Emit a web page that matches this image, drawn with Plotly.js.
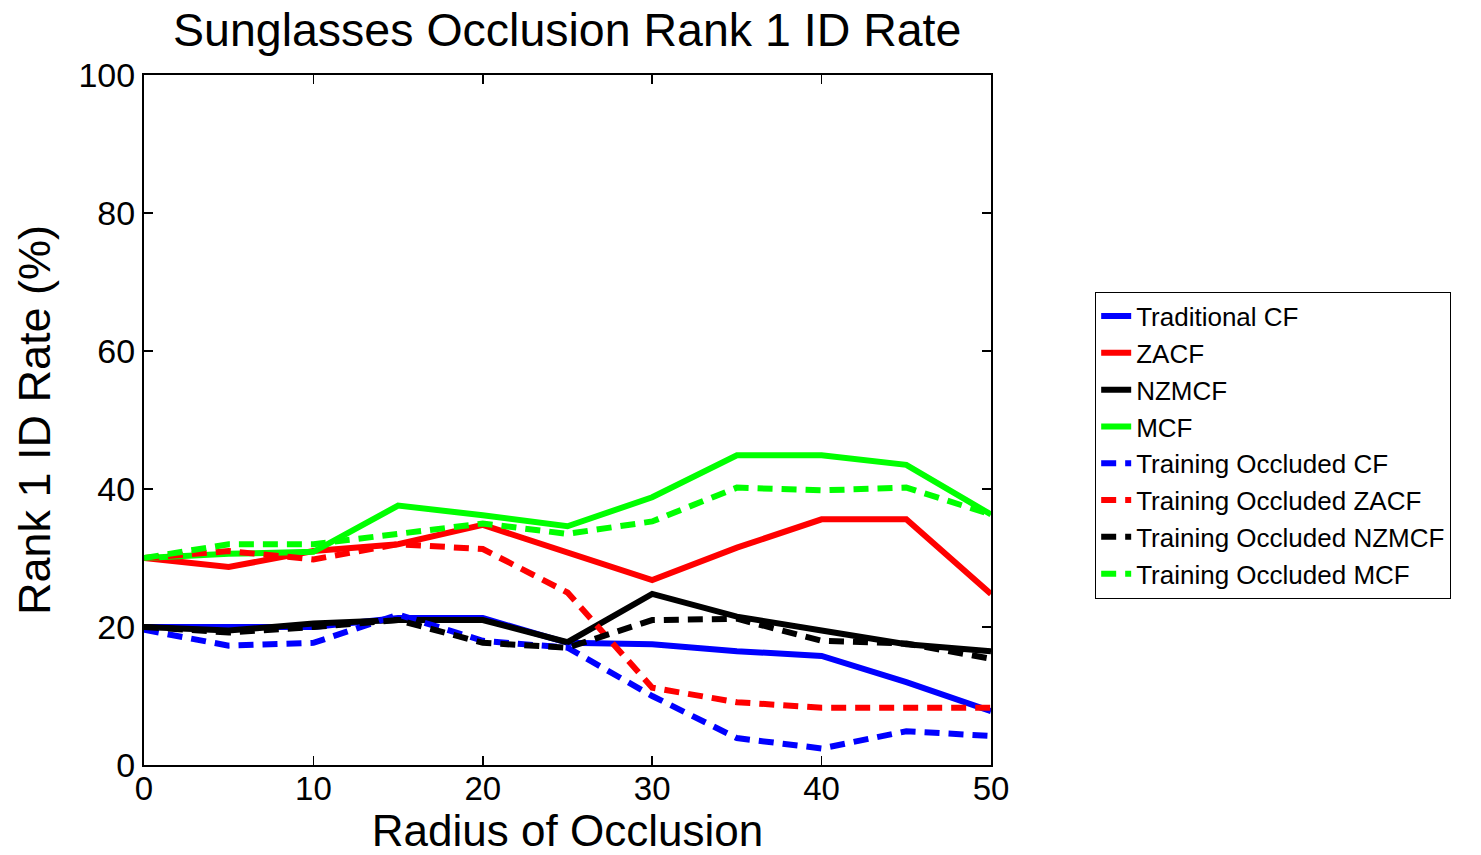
<!DOCTYPE html>
<html>
<head>
<meta charset="utf-8">
<script src="https://cdn.plot.ly/plotly-3.0.1.min.js"></script>
<style>
  html, body { margin: 0; padding: 0; background: #fff; }
  #chart { width: 1481px; height: 855px; }
</style>
</head>
<body>
<div id="chart"></div>
<script>
// Radius of occlusion (x) and rank-1 identification rates (%) per filter
const radius = [0, 5, 10, 15, 20, 25, 30, 35, 40, 45, 50];

const traditionalCF = [20, 20, 20, 21.3, 21.3, 17.7, 17.5, 16.5, 15.8, 12, 7.8];
const zacf          = [30, 28.7, 31, 32, 34.8, 30.8, 26.8, 31.5, 35.6, 35.6, 24.8];
const nzmcf         = [20, 19.5, 20.5, 21, 21, 17.8, 24.8, 21.5, 19.5, 17.5, 16.5];
const mcf           = [30, 30.6, 30.9, 37.6, 36.2, 34.6, 38.8, 44.9, 44.9, 43.5, 36.3];

const occCF    = [19.6, 17.3, 17.7, 21.8, 18, 17, 10, 3.9, 2.4, 4.9, 4.2];
const occZACF  = [30, 31, 29.8, 32, 31.3, 25, 11.2, 9.1, 8.3, 8.3, 8.3];
const occNZMCF = [20, 19.2, 20, 21, 17.7, 17, 21, 21.2, 18, 17.6, 15.4];
const occMCF   = [30, 32, 32, 33.5, 35, 33.5, 35.3, 40.2, 39.8, 40.2, 36.3];

const seriesNames = [
  'Traditional CF', 'ZACF', 'NZMCF', 'MCF',
  'Training Occluded CF', 'Training Occluded ZACF',
  'Training Occluded NZMCF', 'Training Occluded MCF'
];
const seriesValues = [traditionalCF, zacf, nzmcf, mcf, occCF, occZACF, occNZMCF, occMCF];
const seriesColors = ['#0000ff', '#ff0000', '#000000', '#00ff00',
                      '#0000ff', '#ff0000', '#000000', '#00ff00'];

const traces = seriesValues.map((vals, i) => ({
  x: radius,
  y: vals,
  name: seriesNames[i],
  type: 'scatter',
  mode: 'lines',
  line: {
    color: seriesColors[i],
    width: 6,
    dash: i < 4 ? 'solid' : '15px,9px'
  }
}));

const fontFamily = 'Liberation Sans, Arial, sans-serif';

const layout = {
  width: 1481,
  height: 855,
  paper_bgcolor: '#ffffff',
  plot_bgcolor: '#ffffff',
  margin: { l: 144, r: 490, t: 75, b: 90 },
  font: { family: fontFamily, color: '#000' },
  title: {
    text: 'Sunglasses Occlusion Rank 1 ID Rate',
    font: { size: 46.5, family: fontFamily, color: '#000' },
    x: 0.383, xanchor: 'center',
    y: 0.965, yanchor: 'middle'
  },
  xaxis: {
    range: [0, 50],
    tickvals: [0, 10, 20, 30, 40, 50],
    ticks: 'inside',
    ticklen: 9,
    tickwidth: 1.5,
    tickcolor: '#000',
    showline: true,
    linecolor: '#000',
    linewidth: 2,
    mirror: 'ticks',
    showgrid: false,
    zeroline: false,
    tickfont: { size: 33, family: fontFamily },
    ticklabelstandoff: -7,
    title: { text: 'Radius of Occlusion', font: { size: 44, family: fontFamily }, standoff: 16 }
  },
  yaxis: {
    range: [0, 100],
    tickvals: [0, 20, 40, 60, 80, 100],
    ticks: 'inside',
    ticklen: 9,
    tickwidth: 1.5,
    tickcolor: '#000',
    showline: true,
    linecolor: '#000',
    linewidth: 2,
    mirror: 'ticks',
    showgrid: false,
    zeroline: false,
    tickfont: { size: 34, family: fontFamily },
    title: { text: 'Rank 1 ID Rate (%)', font: { size: 45, family: fontFamily }, standoff: 14 }
  },
  legend: {
    x: 1.123, xanchor: 'left',
    y: 0.686, yanchor: 'top',
    bordercolor: '#000',
    borderwidth: 1,
    bgcolor: '#fff',
    font: { size: 26, family: fontFamily },
    tracegroupgap: 0,
    itemwidth: 30
  },
  showlegend: true
};

Plotly.newPlot('chart', traces, layout, { displayModeBar: false, staticPlot: true });
</script>
</body>
</html>
